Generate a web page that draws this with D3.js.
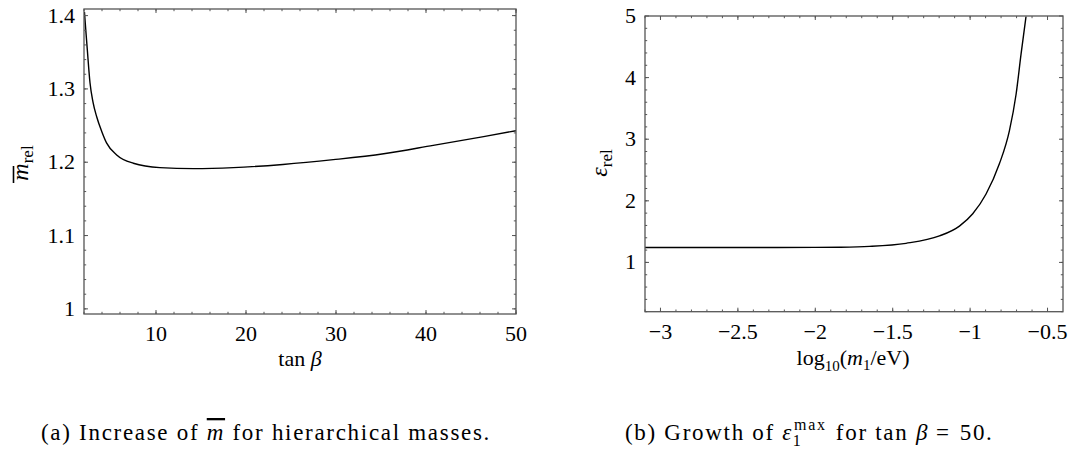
<!DOCTYPE html>
<html><head><meta charset="utf-8">
<script src="https://cdn.jsdelivr.net/npm/d3@7"></script>
<style>
body{margin:0;background:#fff;}
</style></head>
<body><svg id="c" width="1074" height="453" font-family="'Liberation Serif', 'Times New Roman', 'DejaVu Serif', serif"></svg>
<script>
// Panel (a): mean mass ratio vs tan beta
const tanBeta = [2.05, 2.2, 2.37, 2.67, 3.0, 3.41, 3.97, 4.52, 5.63, 7.48, 10.44, 14.15, 18.6, 24.1, 29.7, 35.3, 40.8, 46.4, 50];
const mRel    = [1.405, 1.38, 1.353, 1.308, 1.282, 1.262, 1.242, 1.226, 1.210, 1.1986, 1.1926, 1.1913, 1.1926, 1.197, 1.2035, 1.2115, 1.223, 1.235, 1.243];
const xTicksA = [10, 20, 30, 40, 50];
const yTicksA = [1, 1.1, 1.2, 1.3, 1.4];

// Panel (b): epsilon ratio vs log10(m1/eV)
const logM1  = [-3.1, -2.5, -2.0, -1.84, -1.65, -1.414, -1.198, -1.069, -0.983, -0.897, -0.811, -0.746, -0.703, -0.671, -0.639];
const epsRel = [1.243, 1.243, 1.244, 1.247, 1.26, 1.31, 1.43, 1.59, 1.79, 2.11, 2.60, 3.14, 3.73, 4.38, 4.99];
const xTicksB = [-3, -2.5, -2, -1.5, -1, -0.5];
const yTicksB = [1, 2, 3, 4, 5];

const svg = d3.select("#c");
const frameColor = "#555";
const SERIF = "'Liberation Serif', 'Times New Roman', 'DejaVu Serif', serif";

function txt(sel) { return sel.append("text").attr("font-family", SERIF).attr("fill", "#000"); }

function panel(cfg) {
  const g = svg.append("g");
  const x = d3.scaleLinear().domain(cfg.xDom).range([cfg.left, cfg.right]);
  const y = d3.scaleLinear().domain(cfg.yDom).range([cfg.bottom, cfg.top]);
  const id = "clip" + cfg.name;
  g.append("clipPath").attr("id", id).append("rect")
    .attr("x", cfg.left).attr("y", cfg.top)
    .attr("width", cfg.right - cfg.left).attr("height", cfg.bottom - cfg.top);

  const line = d3.line().x(d => x(d[0])).y(d => y(d[1])).curve(d3.curveMonotoneX);
  g.append("path").datum(cfg.xs.map((v, i) => [v, cfg.ys[i]]))
    .attr("d", line).attr("fill", "none").attr("stroke", "#000")
    .attr("stroke-width", 1.4).attr("clip-path", `url(#${id})`);

  const xMinor = d3.range(cfg.xMinor[0], cfg.xMinor[1] + 1e-9, cfg.xMinor[2]).filter(v => v >= cfg.xDom[0] && v <= cfg.xDom[1]);
  const yMinor = d3.range(cfg.yMinor[0], cfg.yMinor[1] + 1e-9, cfg.yMinor[2]).filter(v => v >= cfg.yDom[0] && v <= cfg.yDom[1]);
  const tickPaths = [];
  const mk = (vals, len, isX) => vals.forEach(v => {
    if (isX) {
      const px = x(v);
      tickPaths.push(`M${px},${cfg.bottom}v${-len}`, `M${px},${cfg.top}v${len}`);
    } else {
      const py = y(v);
      tickPaths.push(`M${cfg.left},${py}h${len}`, `M${cfg.right},${py}h${-len}`);
    }
  });
  mk(xMinor, 2.2, true); mk(yMinor, 2.2, false);
  mk(cfg.xTicks, 4, true); mk(cfg.yTicks, 4, false);
  g.append("path").attr("d", tickPaths.join("")).attr("stroke", frameColor).attr("stroke-width", 1).attr("fill", "none");

  g.append("rect").attr("x", cfg.left).attr("y", cfg.top)
    .attr("width", cfg.right - cfg.left).attr("height", cfg.bottom - cfg.top)
    .attr("fill", "none").attr("stroke", frameColor).attr("stroke-width", 1.3);

  const fmt = v => (v < 0 ? "\u2212" + Math.abs(v) : String(v));
  cfg.xTicks.forEach(d => txt(g).attr("x", x(d)).attr("y", cfg.bottom + 27)
    .attr("text-anchor", "middle").attr("font-size", 22).text(fmt(d)));
  cfg.yTicks.forEach(d => txt(g).attr("x", cfg.left - 9).attr("y", y(d) + 7)
    .attr("text-anchor", "end").attr("font-size", 22).text(fmt(d)));
  return {g, x, y};
}

panel({name: "a", left: 84, right: 516, top: 9, bottom: 314,
  xDom: [2, 50], yDom: [0.993, 1.409], xs: tanBeta, ys: mRel,
  xTicks: xTicksA, yTicks: yTicksA, xMinor: [2, 50, 2], yMinor: [1, 1.4, 0.02]});
panel({name: "b", left: 645, right: 1063, top: 16, bottom: 311.7,
  xDom: [-3.1, -0.4], yDom: [0.2, 5], xs: logM1, ys: epsRel,
  xTicks: xTicksB, yTicks: yTicksB, xMinor: [-3.1, -0.4, 0.1], yMinor: [0.2, 5, 0.2]});

// axis titles
const tA = txt(svg).attr("x", 300).attr("y", 366).attr("text-anchor", "middle").attr("font-size", 22);
tA.append("tspan").text("tan ");
tA.append("tspan").attr("font-style", "italic").text("\u03B2");

const tB = txt(svg).attr("x", 853).attr("y", 365).attr("text-anchor", "middle").attr("font-size", 22);
tB.append("tspan").text("log");
tB.append("tspan").attr("font-size", 15).attr("dy", 6).text("10");
tB.append("tspan").attr("dy", -6).text("(");
tB.append("tspan").attr("font-style", "italic").text("m");
tB.append("tspan").attr("font-size", 15).attr("dy", 5).text("1");
tB.append("tspan").attr("dy", -5).text("/eV)");

// y titles (rotated)
const yA = txt(svg).attr("transform", "translate(28,163) rotate(-90)").attr("text-anchor", "middle").attr("font-size", 24);
yA.append("tspan").attr("font-style", "italic").text("m");
yA.append("tspan").attr("font-size", 17).attr("dy", 5).text("rel");
svg.append("line").attr("x1", 13.5).attr("x2", 13.5).attr("y1", 166).attr("y2", 183).attr("stroke", "#000").attr("stroke-width", 1.6);

const yB = txt(svg).attr("transform", "translate(607,163) rotate(-90)").attr("text-anchor", "middle").attr("font-size", 24);
yB.append("tspan").attr("font-style", "italic").text("\u03B5");
yB.append("tspan").attr("font-size", 17).attr("dy", 5).text("rel");

// captions
const cA = txt(svg).attr("x", 41).attr("y", 440).attr("font-size", 23).attr("letter-spacing", 1.7);
cA.append("tspan").text("(a)  Increase of ");
cA.append("tspan").attr("font-style", "italic").attr("text-decoration", "overline").text("m");
cA.append("tspan").text(" for hierarchical masses.");

const cB = txt(svg).attr("x", 625).attr("y", 440).attr("font-size", 23).attr("letter-spacing", 1.7);
cB.append("tspan").text("(b)  Growth of ");
cB.append("tspan").attr("font-style", "italic").text("\u03B5");
cB.append("tspan").attr("font-size", 16).attr("dy", -10).attr("dx", 1).text("max");
cB.append("tspan").attr("font-size", 16).attr("dy", 16).attr("dx", -34).text("1");
cB.append("tspan").attr("dy", -6).attr("dx", 26).text(" for tan ");
cB.append("tspan").attr("font-style", "italic").text("\u03B2");
cB.append("tspan").attr("dx", 7).text("=");
cB.append("tspan").attr("dx", 9).text("50.");
</script></body></html>
